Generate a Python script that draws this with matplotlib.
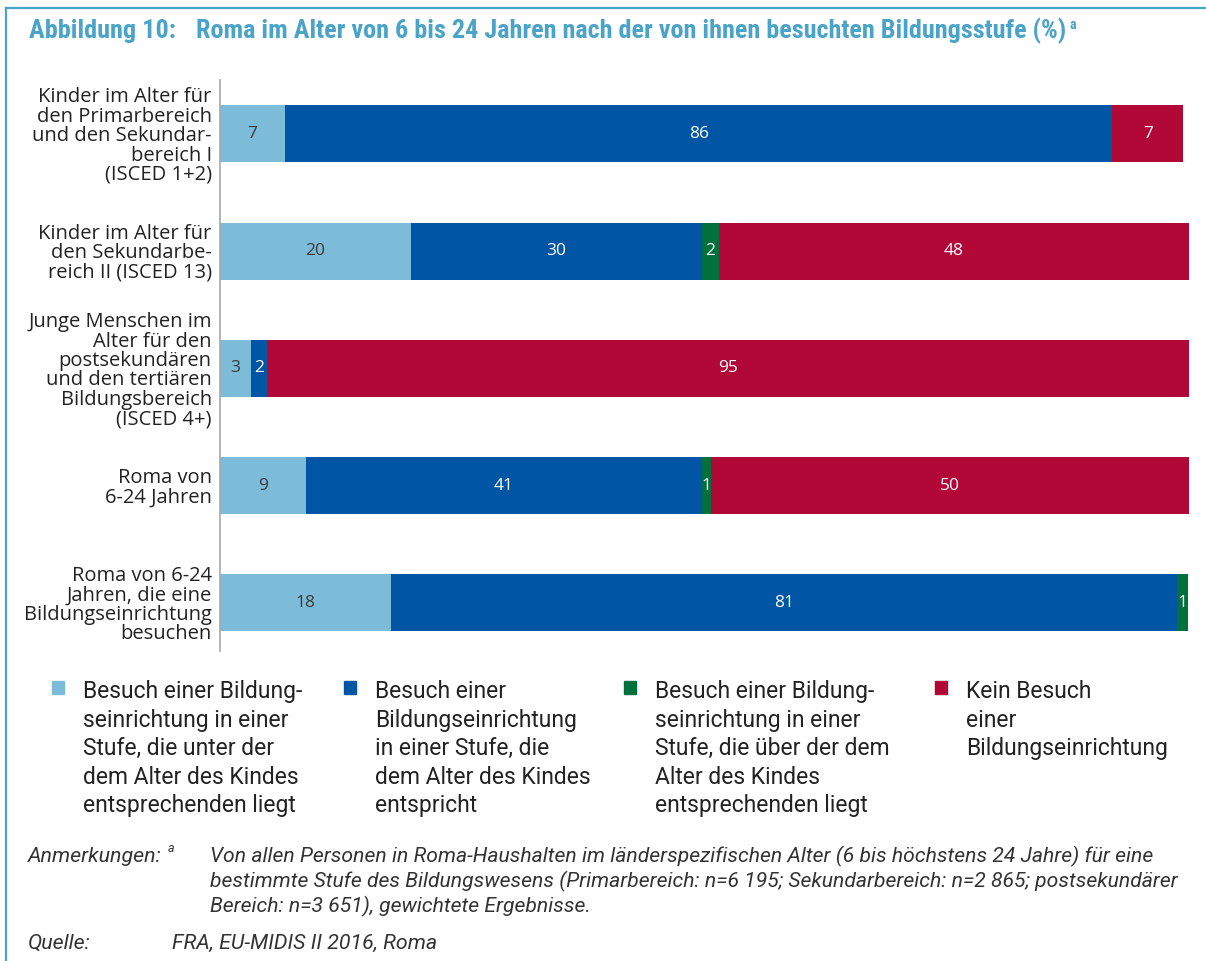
import matplotlib
matplotlib.use("Agg")
import matplotlib.pyplot as plt
from matplotlib import font_manager
from matplotlib.patches import Rectangle
from matplotlib.lines import Line2D
import numpy as np

# ---------------- data ----------------
categories = [
    "Kinder im Alter für\nden Primarbereich\nund den Sekundar-\nbereich I\n(ISCED 1+2)",
    "Kinder im Alter für\nden Sekundarbe-\nreich II (ISCED 13)",
    "Junge Menschen im\nAlter für den\npostsekundären\nund den tertiären\nBildungsbereich\n(ISCED 4+)",
    "Roma von\n6-24 Jahren",
    "Roma von 6-24\nJahren, die eine\nBildungseinrichtung\nbesuchen",
]
below = [6.7, 19.7, 3.2, 8.9, 17.6]
matching = [85.4, 30.0, 1.65, 40.8, 81.2]
above = [0.0, 1.75, 0.0, 1.0, 1.1]
none_ = [7.3, 48.5, 95.1, 49.3, 0.0]
label_below = ["7", "20", "3", "9", "18"]
label_matching = ["86", "30", "2", "41", "81"]
label_above = ["", "2", "", "1", "1"]
label_none = ["7", "48", "95", "50", ""]

series_names = [
    "Besuch einer Bildung-\nseinrichtung in einer\nStufe, die unter der\ndem Alter des Kindes\nentsprechenden liegt",
    "Besuch einer\nBildungseinrichtung\nin einer Stufe, die\ndem Alter des Kindes\nentspricht",
    "Besuch einer Bildung-\nseinrichtung in einer\nStufe, die über der dem\nAlter des Kindes\nentsprechenden liegt",
    "Kein Besuch\neiner\nBildungseinrichtung",
]
colors = ["#7dbcd8", "#0055a4", "#00703c", "#b20837"]
text_colors = ["#3a3a3a", "white", "white", "white"]

title_num = "Abbildung 10:"
title_txt = "Roma im Alter von 6 bis 24 Jahren nach der von ihnen besuchten Bildungsstufe (%)"
note_label = "Anmerkungen:"
note_text = ("Von allen Personen in Roma-Haushalten im länderspezifischen Alter (6 bis höchstens 24 Jahre) für eine\n"
             "bestimmte Stufe des Bildungswesens (Primarbereich: n=6 195; Sekundarbereich: n=2 865; postsekundärer\n"
             "Bereich: n=3 651), gewichtete Ergebnisse.")
source_label = "Quelle:"
source_text = "FRA, EU-MIDIS II 2016, Roma"

# ---------------- fonts ----------------
avail = {f.name for f in font_manager.fontManager.ttflist}
def pick(*names):
    for n in names:
        if n in avail:
            return n
    return "DejaVu Sans"
cond = pick("Roboto Condensed", "Liberation Sans Narrow", "Noto Sans", "Liberation Sans")
leg_font = pick("Roboto", "Noto Sans", "DejaVu Sans")
body = pick("Open Sans", "Noto Sans", "DejaVu Sans")

W, H = 1206, 961
fig = plt.figure(figsize=(W / 100, H / 100), dpi=100)

def fx(px):
    return px / W
def fy(py):
    return 1 - py / H

# frame
fig.add_artist(Line2D([fx(5.5), 1.0], [fy(8), fy(8)], color="#4aa3c8", lw=1.6))
fig.add_artist(Line2D([fx(5.5), fx(5.5)], [fy(8), 0.0], color="#4aa3c8", lw=1.6))

# title
title_color = "#4aa3c8"
fig.text(fx(29), fy(31), title_num, fontsize=18.9, fontweight="bold", color=title_color,
         family=cond, va="center", ha="left")
t = fig.text(fx(196), fy(31), title_txt, fontsize=18.9, fontweight="bold", color=title_color,
             family=cond, va="center", ha="left")
fig.canvas.draw()
bb = t.get_window_extent()
fig.text(bb.x1 / W + fx(3), fy(25), "a", fontsize=10, fontweight="bold", color=title_color,
         family=cond, va="center", ha="left")

# axes
ax = fig.add_axes([fx(220), fy(651), fx(1189) - fx(220), (651 - 80) / H])
y = np.arange(len(categories))
h = 0.486
left = np.zeros(len(categories))
for vals, labs, c, tc in zip([below, matching, above, none_],
                             [label_below, label_matching, label_above, label_none],
                             colors, text_colors):
    vals = np.array(vals)
    bars = ax.barh(y, vals, left=left, height=h, color=c, edgecolor="none")
    for i, (b, lab) in enumerate(zip(bars, labs)):
        if lab:
            ax.text(left[i] + vals[i] / 2, y[i], lab, ha="center", va="center",
                    color=tc, fontsize=12.5, family=body)
    left = left + vals

ax.set_xlim(0, 100)
ax.set_ylim(4.41, -0.46)
ax.set_yticks(y)
ax.set_yticklabels(categories, fontsize=14.5, family=body, color="#222222", linespacing=0.96)
ax.tick_params(axis="y", length=0, pad=6)
ax.set_xticks([])
for s in ["top", "right", "bottom"]:
    ax.spines[s].set_visible(False)
ax.spines["left"].set_color("#a8a8a8")
ax.spines["left"].set_linewidth(1.2)

# legend (manual)
leg_x = [52, 344, 624, 935]
for xpx, name, c in zip(leg_x, series_names, colors):
    fig.add_artist(Rectangle((fx(xpx), fy(694)), fx(12), 13 / H, color=c, transform=fig.transFigure))
    fig.text(fx(xpx + 31), fy(680), name, fontsize=16.5, family=leg_font, color="#222222",
             va="top", ha="left", linespacing=1.31)

# notes
note_col = "#333333"
nl = fig.text(fx(28), fy(857), note_label, fontsize=15.4, family=leg_font, style="italic", color=note_col,
              va="center", ha="left")
fig.canvas.draw()
nb = nl.get_window_extent()
fig.text(nb.x1 / W + fx(6), fy(849), "a", fontsize=9, family=leg_font, style="italic", color=note_col,
         va="center", ha="left")
fig.text(fx(210), fy(846), note_text, fontsize=15.2, family=leg_font, style="italic", color=note_col,
         va="top", ha="left", linespacing=1.23)
fig.text(fx(28), fy(943), source_label, fontsize=15.4, family=leg_font, style="italic", color=note_col,
         va="center", ha="left")
fig.text(fx(172), fy(943), source_text, fontsize=15.4, family=leg_font, style="italic", color=note_col,
         va="center", ha="left")

fig.savefig("out.png", dpi=100)
